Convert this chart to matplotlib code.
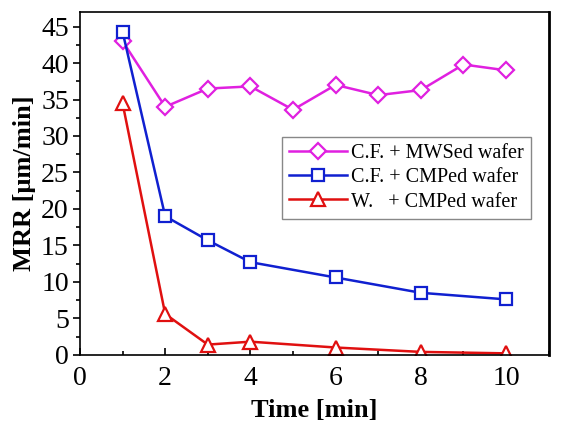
import matplotlib
matplotlib.use("Agg")
import matplotlib.pyplot as plt
from matplotlib.ticker import MultipleLocator

plt.rcParams['font.family'] = ['Liberation Serif', 'DejaVu Serif']

# data
x_mws = [1, 2, 3, 4, 5, 6, 7, 8, 9, 10]
y_mws = [43.0, 34.0, 36.5, 36.8, 33.6, 37.0, 35.6, 36.3, 39.8, 39.0]

x_cmp = [1, 2, 3, 4, 6, 8, 10]
y_cmp = [44.3, 19.0, 15.7, 12.7, 10.6, 8.5, 7.6]

x_w = [1, 2, 3, 4, 6, 8, 10]
y_w = [34.5, 5.6, 1.4, 1.8, 1.0, 0.4, 0.2]

labels = ["C.F. + MWSed wafer", "C.F. + CMPed wafer", "W.   + CMPed wafer"]

fig = plt.figure(figsize=(5.71, 4.28), dpi=100)
ax = fig.add_axes([0.14, 0.171, 0.821, 0.801])

ax.plot(x_mws, y_mws, color='#e020e0', marker='D', markersize=8, mfc='white',
        mew=1.6, lw=1.8, label=labels[0])
ax.plot(x_cmp, y_cmp, color='#1020d0', marker='s', markersize=8, mfc='white',
        mew=1.6, lw=1.8, label=labels[1])
ax.plot(x_w, y_w, color='#e01010', marker='^', markersize=10, mfc='white',
        mew=1.6, lw=1.8, label=labels[2])

ax.set_xlim(0, 11)
ax.set_ylim(0, 47)
ax.xaxis.set_major_locator(MultipleLocator(2))
ax.xaxis.set_minor_locator(MultipleLocator(1))
ax.yaxis.set_major_locator(MultipleLocator(5))
ax.yaxis.set_minor_locator(MultipleLocator(2.5))
ax.tick_params(axis='x', which='both', direction='in', labelsize=20, pad=8)
ax.tick_params(axis='y', which='both', direction='out', labelsize=20, pad=3)
ax.tick_params(which='major', length=5, width=1.2)
ax.tick_params(which='minor', length=3, width=1.2)
for s in ax.spines.values():
    s.set_linewidth(1.2)
ax.spines['right'].set_linewidth(2)

ax.set_xlabel("Time [min]", fontsize=19, fontweight='bold', labelpad=6)
ax.set_ylabel("MRR [μm/min]", fontsize=19, fontweight='bold', labelpad=4)

leg = ax.legend(loc='upper right', bbox_to_anchor=(0.962, 0.635), borderaxespad=0,
                fontsize=14.5, fancybox=False, framealpha=1, edgecolor='#888888',
                handlelength=2.9, handletextpad=0.2, borderpad=0.35, labelspacing=0.25)
leg.get_frame().set_linewidth(1)

fig.savefig("out.png", dpi=100)
